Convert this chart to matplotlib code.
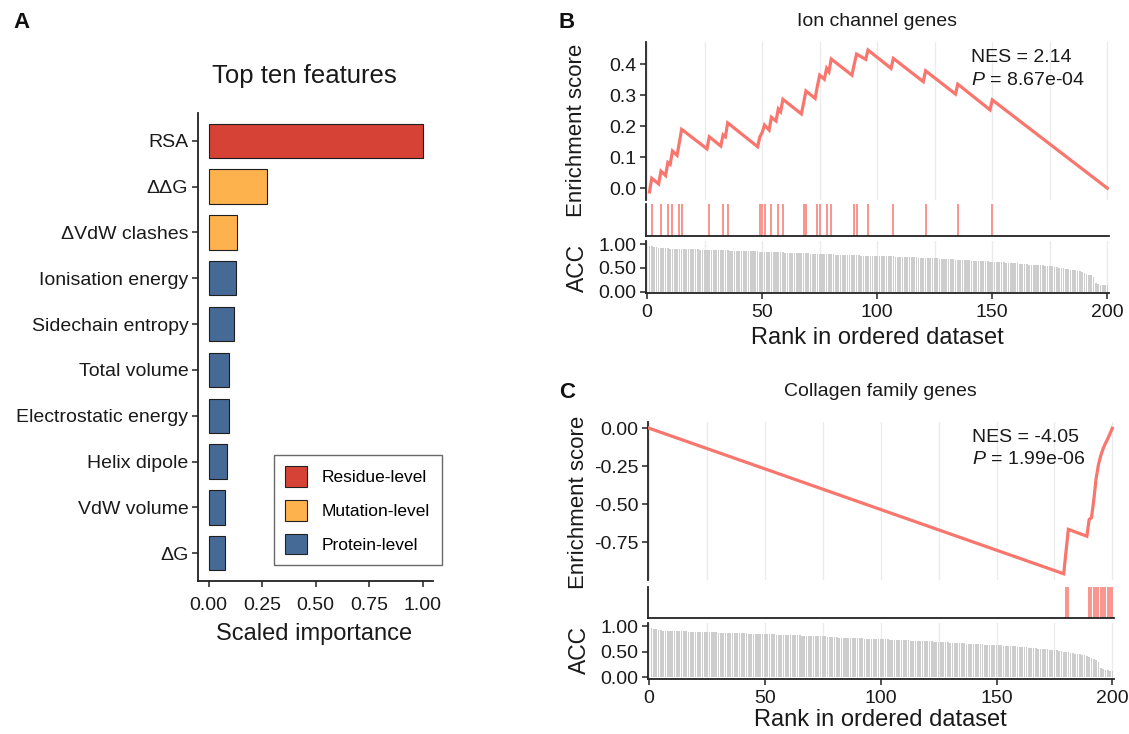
import matplotlib
matplotlib.use("Agg")
import matplotlib.pyplot as plt
from matplotlib.patches import Patch
import numpy as np

# ---------------- data ----------------
features = ["RSA", "ΔΔG", "ΔVdW clashes", "Ionisation energy", "Sidechain entropy",
            "Total volume", "Electrostatic energy", "Helix dipole", "VdW volume", "ΔG"]
importance = [1.0, 0.274, 0.132, 0.129, 0.116, 0.096, 0.096, 0.085, 0.076, 0.076]
feature_level = ["Residue-level", "Mutation-level", "Mutation-level", "Protein-level",
                 "Protein-level", "Protein-level", "Protein-level", "Protein-level",
                 "Protein-level", "Protein-level"]
level_names = ["Residue-level", "Mutation-level", "Protein-level"]
level_colors = ["#D64336", "#FDB24D", "#466A96"]

# Ion channel genes (panel B)
ion_hits = [2, 6, 9, 11, 14, 15, 27, 33, 35, 49, 50, 51, 54, 57, 59, 68, 69, 74, 75,
            78, 80, 90, 91, 96, 107, 121, 135, 150]
ion_es_rank = [1, 2, 5, 6, 8, 9, 10, 11, 13, 14, 15, 26, 27, 32, 33, 34, 35, 48, 49, 50, 51,
               53, 54, 56, 57, 58, 59, 67, 68, 69, 73, 74, 75, 77, 78, 79, 80, 89, 90, 91,
               95, 96, 106, 107, 120, 121, 134, 135, 149, 150, 200]
ion_es_value = [-0.012, 0.032, 0.014, 0.055, 0.041, 0.083, 0.077, 0.120, 0.106, 0.148, 0.190,
                0.127, 0.166, 0.136, 0.172, 0.166, 0.211, 0.134, 0.166, 0.180, 0.204,
                0.188, 0.229, 0.217, 0.256, 0.247, 0.287, 0.240, 0.275, 0.314, 0.290, 0.330,
                0.365, 0.352, 0.387, 0.376, 0.417, 0.365, 0.400, 0.433, 0.416, 0.446, 0.387,
                0.419, 0.344, 0.379, 0.304, 0.336, 0.253, 0.285, 0.0]
ion_nes = "2.14"
ion_p = "8.67e-04"

# Collagen family genes (panel C)
col_hits = [180, 181, 190, 191, 192, 193, 194, 195, 196, 197, 198, 199, 200]
col_es_rank = [0, 179, 180, 181, 189, 190, 191, 192, 193, 194, 195, 196, 197, 198, 199, 200]
col_es_value = [0.0, -0.957, -0.81, -0.665, -0.710, -0.600, -0.588, -0.47, -0.33, -0.24,
                -0.18, -0.135, -0.10, -0.07, -0.035, 0.0]
col_nes = "-4.05"
col_p = "1.99e-06"

# ACC of the ranked dataset (ranks 1..200)
acc = [0.96, 0.95, 0.94, 0.93, 0.92, 0.91, 0.91, 0.91, 0.91, 0.90,
       0.90, 0.90, 0.90, 0.90, 0.90, 0.90, 0.89, 0.89, 0.89, 0.89,
       0.89, 0.89, 0.88, 0.88, 0.88, 0.88, 0.88, 0.88, 0.88, 0.87,
       0.87, 0.87, 0.87, 0.87, 0.87, 0.86, 0.86, 0.86, 0.86, 0.86,
       0.86, 0.86, 0.85, 0.85, 0.85, 0.85, 0.85, 0.85, 0.84, 0.84,
       0.84, 0.84, 0.84, 0.84, 0.83, 0.83, 0.83, 0.83, 0.83, 0.82,
       0.82, 0.82, 0.82, 0.82, 0.82, 0.81, 0.81, 0.81, 0.81, 0.81,
       0.80, 0.80, 0.80, 0.80, 0.80, 0.80, 0.79, 0.79, 0.79, 0.79,
       0.79, 0.78, 0.78, 0.78, 0.78, 0.78, 0.77, 0.77, 0.77, 0.77,
       0.77, 0.77, 0.76, 0.76, 0.76, 0.76, 0.76, 0.76, 0.75, 0.75,
       0.75, 0.75, 0.75, 0.74, 0.74, 0.74, 0.74, 0.73, 0.73, 0.73,
       0.73, 0.73, 0.72, 0.72, 0.72, 0.72, 0.72, 0.71, 0.71, 0.71,
       0.71, 0.71, 0.70, 0.70, 0.70, 0.70, 0.69, 0.69, 0.69, 0.68,
       0.68, 0.68, 0.68, 0.67, 0.67, 0.67, 0.66, 0.66, 0.66, 0.66,
       0.65, 0.65, 0.65, 0.65, 0.64, 0.64, 0.64, 0.64, 0.63, 0.63,
       0.63, 0.63, 0.62, 0.62, 0.62, 0.61, 0.61, 0.61, 0.60, 0.60,
       0.60, 0.59, 0.59, 0.58, 0.58, 0.57, 0.57, 0.56, 0.56, 0.55,
       0.55, 0.55, 0.54, 0.54, 0.53, 0.53, 0.52, 0.51, 0.50, 0.49,
       0.49, 0.48, 0.47, 0.46, 0.46, 0.45, 0.44, 0.43, 0.42, 0.40,
       0.38, 0.36, 0.34, 0.30, 0.19, 0.16, 0.15, 0.14, 0.13, 0.13]

rank_ticks = [0, 50, 100, 150, 200]

# ---------------- style ----------------
plt.rcParams["font.family"] = ["Liberation Sans", "DejaVu Sans"]
plt.rcParams["axes.unicode_minus"] = False
plt.rcParams["mathtext.fontset"] = "custom"
plt.rcParams["mathtext.rm"] = "Liberation Sans"
plt.rcParams["mathtext.it"] = "Liberation Sans:italic"

TXT = "#1a1a1a"
SPINE = "#222222"
LINE = "#F8766D"
GRID = "#EBEBEB"
BARGREY = "#CDCDCD"
TICK_FS = 14
LAB_FS = 17

W, H = 1129, 734
fig = plt.figure(figsize=(W / 100, H / 100), dpi=100)


def axpx(l, t, r, b):
    return fig.add_axes([l / W, 1 - b / H, (r - l) / W, (b - t) / H])


def style(ax, left=True, bottom=True):
    for s in ["top", "right"]:
        ax.spines[s].set_visible(False)
    ax.spines["left"].set_visible(left)
    ax.spines["bottom"].set_visible(bottom)
    for s in ["left", "bottom"]:
        ax.spines[s].set_linewidth(1.3)
        ax.spines[s].set_color(SPINE)
    ax.tick_params(length=4, width=1.1, color=SPINE, labelsize=TICK_FS,
                   labelcolor=TXT, pad=3)
    ax.set_facecolor("none")


# ---------------- panel A ----------------
axA = axpx(198, 113.3, 433.3, 580.7)
ypos = np.arange(1, len(features) + 1)
cmap = dict(zip(level_names, level_colors))
axA.barh(ypos, importance, height=0.75, color=[cmap[l] for l in feature_level],
         edgecolor="#1e1e1e", linewidth=0.8, zorder=2)
axA.set_ylim(10.6, 0.4)
axA.set_xlim(-0.05, 1.05)
axA.set_yticks(ypos)
axA.set_yticklabels(features)
axA.set_xticks([0, 0.25, 0.5, 0.75, 1.0])
axA.set_xticklabels(["0.00", "0.25", "0.50", "0.75", "1.00"])
style(axA)
axA.tick_params(axis="x", pad=7.5)
fig.text(304 / W, 1 - 76 / H, "Top ten features", fontsize=18.5, ha="center", va="center", color=TXT)
fig.text(314 / W, 1 - 634 / H, "Scaled importance", fontsize=LAB_FS, ha="center", va="center", color=TXT)
handles = [Patch(facecolor=c, edgecolor="#222222", linewidth=0.8, label=n)
           for n, c in zip(level_names, level_colors)]
leg = axA.legend(handles=handles, loc="upper left", bbox_to_anchor=(273.5 / W, 1 - 455 / H),
                 bbox_transform=fig.transFigure, frameon=True, fancybox=False,
                 edgecolor="#444444", fontsize=12.5, handlelength=1.3, handleheight=1.45,
                 labelspacing=0.75, borderpad=0.65, handletextpad=0.85, borderaxespad=0)
leg.get_frame().set_linewidth(1.0)

# ---------------- GSEA panels ----------------
def gsea_panel(l, r, es_t, es_b, rug_t, rug_b, acc_t, acc_b, es_rank, es_value, hits,
               es_ylim, es_ticks, es_labels, nes, pval, title, title_y, ylab_x, es_lab_y,
               acc_lab_y, xlab_y, nes_x, nes_y):
    xl = (-0.5, 200.5)
    ax1 = axpx(l, es_t, r, es_b)
    ax1.plot(es_rank, es_value, color=LINE, lw=2.3, solid_joinstyle="miter", zorder=3)
    ax1.set_xlim(*xl)
    ax1.set_ylim(*es_ylim)
    ax1.set_yticks(es_ticks)
    ax1.set_yticklabels(es_labels)
    ax1.set_xticks(np.arange(0, 201, 25))
    ax1.grid(axis="x", color=GRID, lw=1.0, zorder=0)
    style(ax1, bottom=False)
    ax1.tick_params(axis="x", length=0, labelbottom=False)
    ax1.text(nes_x, nes_y[0], "NES = " + nes, transform=ax1.transAxes, fontsize=14,
             ha="left", va="center", color=TXT)
    ax1.text(nes_x, nes_y[1], r"$P$ = " + pval, transform=ax1.transAxes, fontsize=14,
             ha="left", va="center", color=TXT)

    ax2 = axpx(l, rug_t, r, rug_b)
    ax2.vlines(hits, 0, 1, color=LINE, lw=1.1)
    ax2.set_xlim(*xl)
    ax2.set_ylim(0, 1)
    ax2.set_xticks([])
    ax2.set_yticks([])
    style(ax2)

    ax3 = axpx(l, acc_t, r, acc_b)
    ranks = np.arange(1, len(acc) + 1)
    ax3.bar(ranks, acc, width=0.72, color=BARGREY, linewidth=0, zorder=2)
    ax3.set_xlim(*xl)
    ax3.set_ylim(-0.035, 1.065)
    ax3.set_yticks([0, 0.5, 1.0])
    ax3.set_yticklabels(["0.00", "0.50", "1.00"])
    ax3.set_xticks(np.arange(0, 201, 25), minor=True)
    ax3.set_xticks(rank_ticks)
    ax3.grid(axis="x", which="both", color=GRID, lw=1.0, zorder=0)
    ax3.set_axisbelow(True)
    style(ax3)
    ax3.tick_params(axis="x", which="minor", length=0)
    ax3.tick_params(axis="x", pad=4)

    fig.text((l + r) / 2 / W, 1 - title_y / H, title, fontsize=14, ha="center", va="center", color=TXT)
    fig.text(ylab_x / W, 1 - es_lab_y / H, "Enrichment score", fontsize=16, rotation=90,
             ha="center", va="center", color=TXT)
    fig.text(ylab_x / W, 1 - acc_lab_y / H, "ACC", fontsize=16.5, rotation=90,
             ha="center", va="center", color=TXT)
    fig.text((l + r) / 2 / W, 1 - xlab_y / H, "Rank in ordered dataset", fontsize=LAB_FS,
             ha="center", va="center", color=TXT)


gsea_panel(646, 1108.5, 42, 200, 204, 236, 241, 293.3, ion_es_rank, ion_es_value, ion_hits,
           (-0.038, 0.472), [0.0, 0.1, 0.2, 0.3, 0.4], ["0.0", "0.1", "0.2", "0.3", "0.4"],
           ion_nes, ion_p, "Ion channel genes", 22, 577, 130, 268, 338, 0.703, (0.9, 0.755))

gsea_panel(648, 1113.5, 421.7, 580, 586.7, 618.3, 623, 679, col_es_rank, col_es_value, col_hits,
           (-0.998, 0.043), [0.0, -0.25, -0.5, -0.75], ["0.00", "-0.25", "-0.50", "-0.75"],
           col_nes, col_p, "Collagen family genes", 392, 579, 502, 650, 720, 0.697, (0.9, 0.76))

# panel letters
for letter, x, y in [("A", 21, 22), ("B", 567, 22), ("C", 567, 392)]:
    fig.text(x / W, 1 - y / H, letter, fontsize=16, fontweight="bold", ha="center",
             va="center", color="#111111")

fig.savefig("out.png", dpi=100)
